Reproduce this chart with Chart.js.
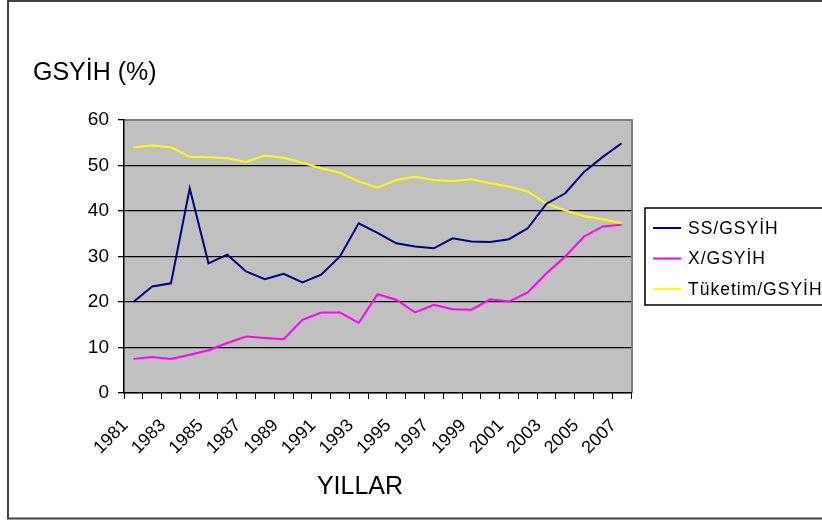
<!DOCTYPE html>
<html>
<head>
<meta charset="utf-8">
<script src="https://cdn.jsdelivr.net/npm/chart.js@4/dist/chart.umd.min.js"></script>
<style>
html,body{margin:0;padding:0;background:#fff;}
#wrap{position:relative;width:822px;height:520px;}
canvas{display:block;}
</style>
</head>
<body>
<div id="wrap"><canvas id="c" width="822" height="520"></canvas></div>
<script>
const years = ["1981","1982","1983","1984","1985","1986","1987","1988","1989","1990","1991","1992","1993","1994","1995","1996","1997","1998","1999","2000","2001","2002","2003","2004","2005","2006","2007"];
const ssGsyih = [20.0, 23.4, 24.1, 45.0, 28.5, 30.4, 26.7, 25.0, 26.2, 24.3, 26.0, 30.0, 37.3, 35.2, 32.9, 32.2, 31.8, 34.0, 33.3, 33.2, 33.8, 36.2, 41.6, 43.9, 48.6, 51.9, 54.9];
const xGsyih = [7.5, 7.9, 7.5, 8.4, 9.4, 11.0, 12.4, 12.1, 11.8, 16.1, 17.7, 17.7, 15.4, 21.7, 20.5, 17.7, 19.4, 18.4, 18.3, 20.6, 20.1, 22.1, 26.3, 30.0, 34.4, 36.6, 37.0];
const tuketimGsyih = [54.0, 54.4, 54.0, 51.9, 51.8, 51.6, 50.8, 52.2, 51.7, 50.6, 49.4, 48.4, 46.5, 45.1, 46.8, 47.5, 46.8, 46.6, 47.0, 46.1, 45.4, 44.3, 41.6, 40.1, 38.9, 38.2, 37.3];
const seriesNames = ["SS/GSYİH", "X/GSYİH", "Tüketim/GSYİH"];
const seriesColors = ["#000080", "#FF00FF", "#FFFF00"];
const yTitle = "GSYİH (%)";
const xTitle = "YILLAR";

const FONT = "'Liberation Sans', Arial, sans-serif";

const decor = {
  id: 'decor',
  beforeDraw(chart) {
    const {ctx, chartArea: a} = chart;
    ctx.save();
    ctx.fillStyle = '#fff';
    ctx.fillRect(0, 0, chart.width, chart.height);
    ctx.fillStyle = '#C0C0C0';
    ctx.fillRect(a.left, a.top, a.right - a.left, a.bottom - a.top);
    ctx.strokeStyle = '#808080';
    ctx.lineWidth = 2;
    ctx.beginPath();
    ctx.moveTo(a.left, a.top);
    ctx.lineTo(a.right + 1, a.top);
    ctx.lineTo(a.right + 1, a.bottom);
    ctx.stroke();
    ctx.restore();
  },
  afterDraw(chart) {
    const {ctx} = chart;
    ctx.save();
    ctx.strokeStyle = '#404040';
    ctx.lineWidth = 2;
    ctx.strokeRect(8, 1, 830, 517.5);
    ctx.fillStyle = '#000';
    ctx.font = '25px ' + FONT;
    ctx.textAlign = 'left';
    ctx.textBaseline = 'middle';
    ctx.fillText(yTitle, 33, 73);
    ctx.textAlign = 'center';
    ctx.fillText(xTitle, 360, 487);
    ctx.strokeStyle = '#000';
    ctx.lineWidth = 1.5;
    ctx.strokeRect(645, 208, 200, 97);
    ctx.font = '17.5px ' + FONT;
    ctx.textAlign = 'left';
    try { ctx.letterSpacing = '1px'; } catch (e) {}
    chart.data.datasets.forEach((ds, i) => {
      const y = 228 + i * 30.5;
      ctx.strokeStyle = ds.borderColor;
      ctx.lineWidth = 2;
      ctx.beginPath();
      ctx.moveTo(653, y);
      ctx.lineTo(681, y);
      ctx.stroke();
      ctx.fillStyle = '#000';
      ctx.fillText(ds.label, 688, y + 1);
    });
    ctx.restore();
  }
};

new Chart(document.getElementById('c'), {
  type: 'line',
  data: {
    labels: years,
    datasets: [
      {label: seriesNames[0], data: ssGsyih, borderColor: seriesColors[0], backgroundColor: seriesColors[0]},
      {label: seriesNames[1], data: xGsyih, borderColor: seriesColors[1], backgroundColor: seriesColors[1]},
      {label: seriesNames[2], data: tuketimGsyih, borderColor: seriesColors[2], backgroundColor: seriesColors[2]}
    ].map(d => Object.assign(d, {borderWidth: 2, pointRadius: 0, tension: 0, fill: false}))
  },
  options: {
    responsive: false,
    animation: false,
    events: [],
    layout: {padding: {left: 0, right: 191, top: 120, bottom: 0}},
    plugins: {legend: {display: false}, title: {display: false}, tooltip: {enabled: false}},
    scales: {
      x: {
        type: 'category',
        offset: true,
        afterFit(s) { s.height = 127; },
        grid: {drawOnChartArea: false, drawTicks: true, tickLength: 6, color: '#000', offset: true, lineWidth: 1},
        border: {display: true, color: '#000', width: 1.5},
        ticks: {
          autoSkip: false,
          maxRotation: 45,
          minRotation: 45,
          padding: 16,
          labelOffset: -8,
          color: '#000',
          font: {family: FONT, size: 18},
          callback(v, i) { return i % 2 === 0 ? this.getLabelForValue(v) : ''; }
        }
      },
      y: {
        min: 0,
        max: 60,
        afterFit(s) { s.width = 124; },
        grid: {
          color: c => (c.tick && c.tick.value === 60) ? 'rgba(0,0,0,0)' : '#000',
          tickColor: '#000',
          lineWidth: 1.3,
          tickLength: 6
        },
        border: {display: true, color: '#000', width: 1.5},
        ticks: {stepSize: 10, padding: 9, color: '#000', font: {family: FONT, size: 19}}
      }
    }
  },
  plugins: [decor]
});
</script>
</body>
</html>
